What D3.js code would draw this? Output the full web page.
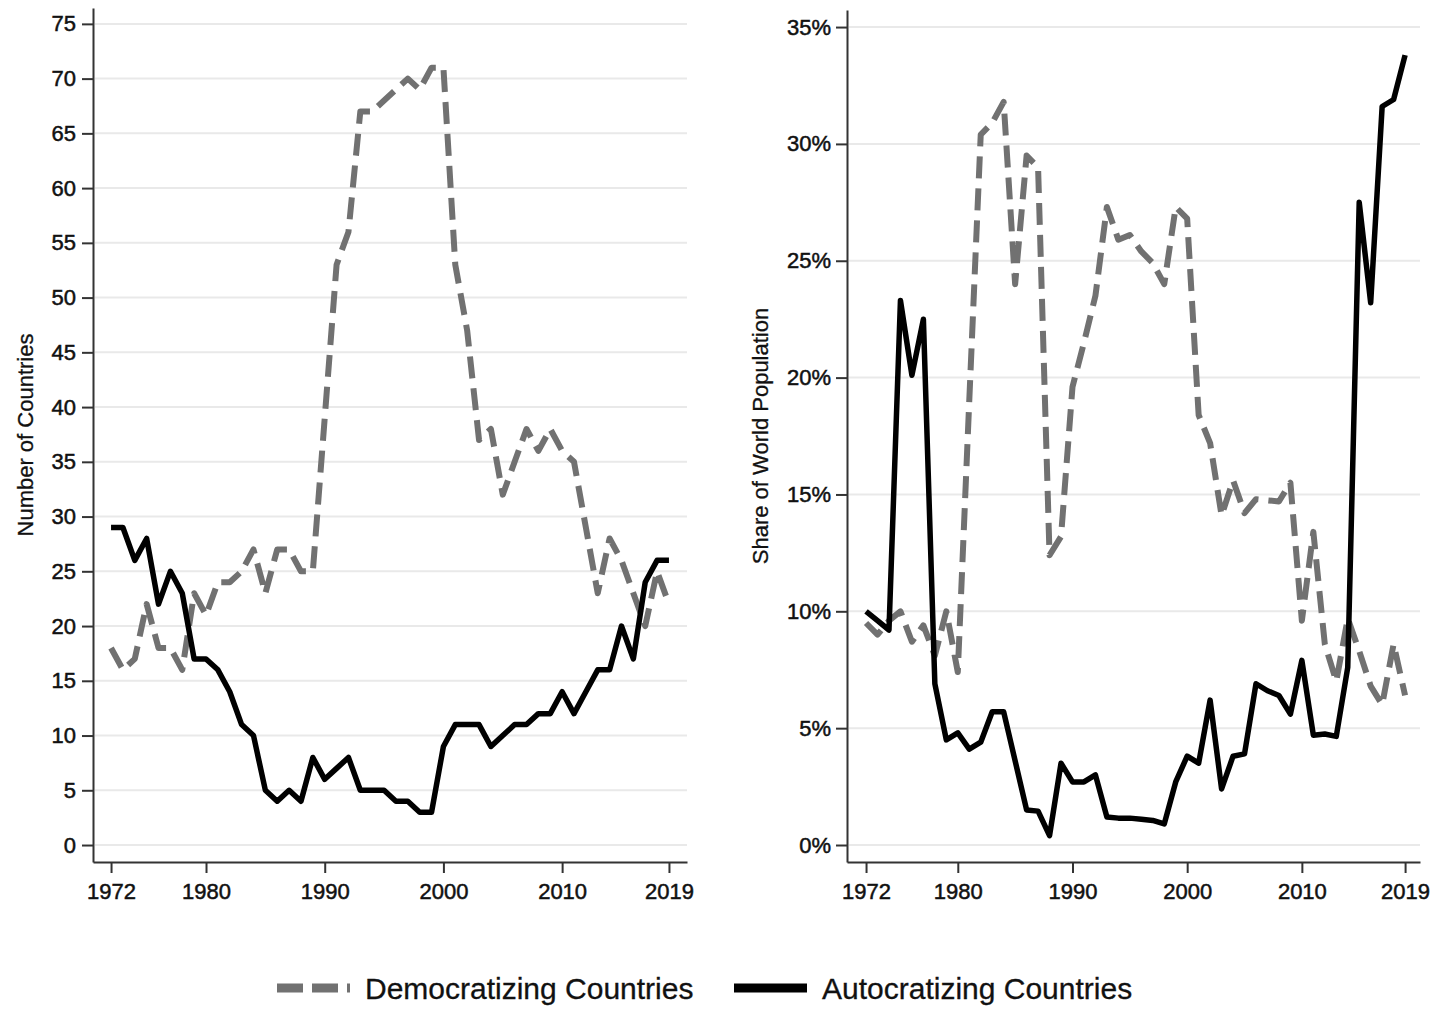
<!DOCTYPE html>
<html>
<head>
<meta charset="utf-8">
<script src="https://cdn.jsdelivr.net/npm/d3@7"></script>
<style>
  body { margin: 0; background: #fff; }
  svg { display: block; font-family: "Liberation Sans", Arial, sans-serif; }
  text { paint-order: stroke; }
</style>
</head>
<body>
<svg id="chart" width="1432" height="1009"></svg>
<script>
const years = [1972,1973,1974,1975,1976,1977,1978,1979,1980,1981,
  1982,1983,1984,1985,1986,1987,1988,1989,1990,1991,
  1992,1993,1994,1995,1996,1997,1998,1999,2000,2001,
  2002,2003,2004,2005,2006,2007,2008,2009,2010,2011,
  2012,2013,2014,2015,2016,2017,2018,2019];

// number of countries
const demCount = [18,16,17,22,18,18,16,23,21,24,
  24,25,27,23,27,27,25,25,39,53,
  56,67,67,68,69,70,69,71,71,53,
  47,37,38,32,35,38,36,38,36,35,
  29,23,28,26,23,20,25,22];
const autCount = [29,29,26,28,22,25,23,17,17,16,
  14,11,10,5,4,5,4,8,6,7,
  8,5,5,5,4,4,3,3,9,11,
  11,11,9,10,11,11,12,12,14,12,
  14,16,16,20,17,24,26,26];

// share of world population (%)
const demShare = [9.5,9.0,9.6,10.0,8.7,9.4,8.1,10.0,7.4,19.0,
  30.4,30.9,31.8,24.0,29.5,29.0,12.4,13.2,19.6,21.5,
  23.5,27.3,25.9,26.1,25.4,24.9,24.0,27.3,26.8,18.4,
  17.2,14.1,15.6,14.2,14.8,14.75,14.7,15.5,9.6,13.4,
  8.6,7.0,9.7,8.3,6.8,6.0,8.6,6.4];
const autShare = [10.0,9.6,9.2,23.3,20.1,22.5,6.9,4.5,4.8,4.1,
  4.4,5.7,5.7,3.6,1.5,1.45,0.4,3.5,2.7,2.7,
  3.0,1.2,1.15,1.15,1.1,1.05,0.9,2.7,3.8,3.5,
  6.2,2.4,3.8,3.9,6.9,6.6,6.4,5.6,7.9,4.7,
  4.75,4.65,7.6,27.5,23.2,31.6,31.9,33.8];

const xTicks = [1972, 1980, 1990, 2000, 2010, 2019];
const countTicks = [0,5,10,15,20,25,30,35,40,45,50,55,60,65,70,75];
const shareTicks = [0,5,10,15,20,25,30,35];

const seriesNames = ["Democratizing Countries", "Autocratizing Countries"];

const svg = d3.select("#chart");
const DEM_COLOR = "#717171", AUT_COLOR = "#000";
const DASH = "22,10";
const TXT = "#111";

function drawPanel(p) {
  const x = d3.scaleLinear().domain(p.xDomain).range([p.left, p.right]);
  const y = d3.scaleLinear().domain(p.yDomain).range([p.bottom, p.top]);
  const g = svg.append("g");

  // gridlines
  g.selectAll("line.grid")
    .data(p.yTicks)
    .join("line")
    .attr("class", "grid")
    .attr("x1", p.left + 2).attr("x2", p.right)
    .attr("y1", d => y(d)).attr("y2", d => y(d))
    .attr("stroke", "#e9e9e9")
    .attr("stroke-width", 2);

  const yAxis = g.append("g")
    .attr("transform", `translate(${p.left},0)`)
    .call(d3.axisLeft(y).tickValues(p.yTicks).tickSize(11).tickPadding(p.yPad)
      .tickSizeOuter(0).tickFormat(p.fmt));
  const xAxis = g.append("g")
    .attr("transform", `translate(0,${p.bottom})`)
    .call(d3.axisBottom(x).tickValues(xTicks).tickSize(11).tickPadding(10)
      .tickSizeOuter(0).tickFormat(d3.format("d")));
  [yAxis, xAxis].forEach(a => {
    a.selectAll("path.domain").attr("stroke", "#333").attr("stroke-width", 2);
    a.selectAll(".tick line").attr("stroke", "#333").attr("stroke-width", 2);
    a.selectAll(".tick text")
      .attr("font-size", 22)
      .attr("font-family", "Liberation Sans, Arial, sans-serif")
      .attr("fill", TXT)
      .attr("stroke", TXT)
      .attr("stroke-width", 0.5);
  });

  g.append("text")
    .attr("transform", `translate(${p.titleX},${(p.top + p.bottom) / 2}) rotate(-90)`)
    .attr("text-anchor", "middle")
    .attr("font-size", 22)
    .attr("fill", TXT)
    .attr("stroke", TXT)
    .attr("stroke-width", 0.3)
    .text(p.title);

  const line = d3.line()
    .x((d, i) => x(years[i]))
    .y(d => y(d));

  g.append("path")
    .datum(p.dem)
    .attr("d", line)
    .attr("fill", "none")
    .attr("stroke", DEM_COLOR)
    .attr("stroke-width", 6)
    .attr("stroke-dasharray", DASH)
    .attr("stroke-linejoin", "round");

  g.append("path")
    .datum(p.aut)
    .attr("d", line)
    .attr("fill", "none")
    .attr("stroke", AUT_COLOR)
    .attr("stroke-width", 5.5)
    .attr("stroke-linejoin", "round");
}

drawPanel({
  left: 93, right: 687, top: 8, bottom: 862,
  xDomain: [1970.48, 2020.52],
  yDomain: [-1.55, 76.45],
  yTicks: countTicks, yPad: 6,
  fmt: d3.format("d"),
  title: "Number of Countries", titleX: 33,
  dem: demCount, aut: autCount
});

drawPanel({
  left: 847, right: 1420, top: 10, bottom: 862,
  xDomain: [1970.34, 2020.3],
  yDomain: [-0.727, 35.73],
  yTicks: shareTicks, yPad: 5,
  fmt: d => d + "%",
  title: "Share of World Population", titleX: 768,
  dem: demShare, aut: autShare
});

// legend
const legend = svg.append("g").attr("transform", "translate(0,988)");
const legendItems = [
  { name: seriesNames[0], x: 277, color: DEM_COLOR, dash: "26,9" },
  { name: seriesNames[1], x: 734, color: AUT_COLOR, dash: null }
];
legendItems.forEach(it => {
  legend.append("line")
    .attr("x1", it.x).attr("x2", it.x + 73)
    .attr("y1", 0).attr("y2", 0)
    .attr("stroke", it.color)
    .attr("stroke-width", 9)
    .attr("stroke-dasharray", it.dash);
  legend.append("text")
    .attr("x", it.x + 88).attr("y", 11)
    .attr("font-size", 30)
    .attr("fill", TXT)
    .attr("stroke", TXT)
    .attr("stroke-width", 0.3)
    .text(it.name);
});
</script>
</body>
</html>
